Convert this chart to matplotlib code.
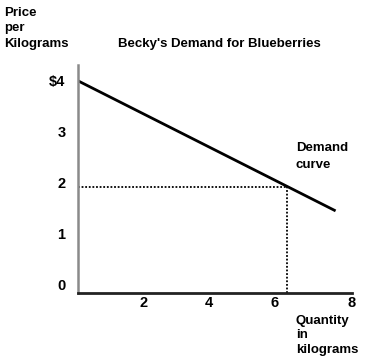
import matplotlib
matplotlib.use("Agg")
import matplotlib.pyplot as plt
import matplotlib.transforms as mtransforms
from matplotlib import font_manager

# ---- data ----
demand_q = [0, 7.85]
demand_p = [4.0, 1.45]
eq_q = 6.36
eq_p = 1.91
x_ticks = [2, 4, 6, 8]
x_tick_labels = ["2", "4", "6", "8"]
y_ticks = [0, 1, 2, 3, 4]
y_tick_labels = ["0", "1", "2", "3", "$4"]
title = "Becky's Demand for Blueberries"
y_label_lines = ["Price", "per", "Kilograms"]
x_label_lines = ["Quantity", "in", "kilograms"]
curve_label_lines = ["Demand", "curve"]

names = {f.name for f in font_manager.fontManager.ttflist}
narrow = "Liberation Sans Narrow" if "Liberation Sans Narrow" in names else "Liberation Sans"
plt.rcParams['font.family'] = ['Liberation Sans', 'DejaVu Sans']

W, H = 370, 364
fig = plt.figure(figsize=(W / 100, H / 100), dpi=100)
ax = fig.add_axes([78 / W, (H - 293) / H, 274 / W, (293 - 65) / H])
ax.set_xlim(0, 8.35)
ax.set_ylim(-0.16, 4.31)

ax.plot(demand_q, demand_p, color="black", lw=2, solid_capstyle="butt")
ax.plot([0, eq_q], [eq_p, eq_p], color="black", lw=1.3, linestyle=(0, (1, 1)))
ax.plot([eq_q, eq_q], [-0.16, eq_p], color="black", lw=1.3, linestyle=(0, (1, 1)))

for s in ["top", "right"]:
    ax.spines[s].set_visible(False)
ax.spines["left"].set_color("#8a8a8a")
ax.spines["left"].set_linewidth(1.8)
ax.spines["bottom"].set_color("#222222")
ax.spines["bottom"].set_linewidth(2)

ax.set_xticks(x_ticks)
ax.set_xticklabels(x_tick_labels, fontfamily=narrow, fontweight="bold", fontsize=10.5)
ax.set_yticks(y_ticks)
ax.set_yticklabels(y_tick_labels, fontfamily=narrow, fontweight="bold", fontsize=10.5)
ax.tick_params(axis="both", length=0)
ax.tick_params(axis="x", pad=2)
ax.tick_params(axis="y", pad=9)

# the last x label sits a little right of its tick in the reference
last = ax.get_xticklabels()[-1]
last.set_transform(last.get_transform() + mtransforms.ScaledTranslation(0.11, 0, fig.dpi_scale_trans))

def ftext(px, py, s, **kw):
    fig.text(px / W, 1 - py / H, s, fontsize=9.5, fontweight="bold", va="baseline", **kw)

ftext(219, 46.7, title, ha="center")
for i, s in enumerate(y_label_lines):
    ftext(4, 15.7 + i * 15.5, s, ha="left")
for i, s in enumerate(curve_label_lines):
    ftext(296, 150.7 + i * 17, s, ha="left")
for i, s in enumerate(x_label_lines):
    ftext(296, 324 + i * 14.5, s, ha="left")

fig.savefig("out.png", dpi=100, facecolor="white")
